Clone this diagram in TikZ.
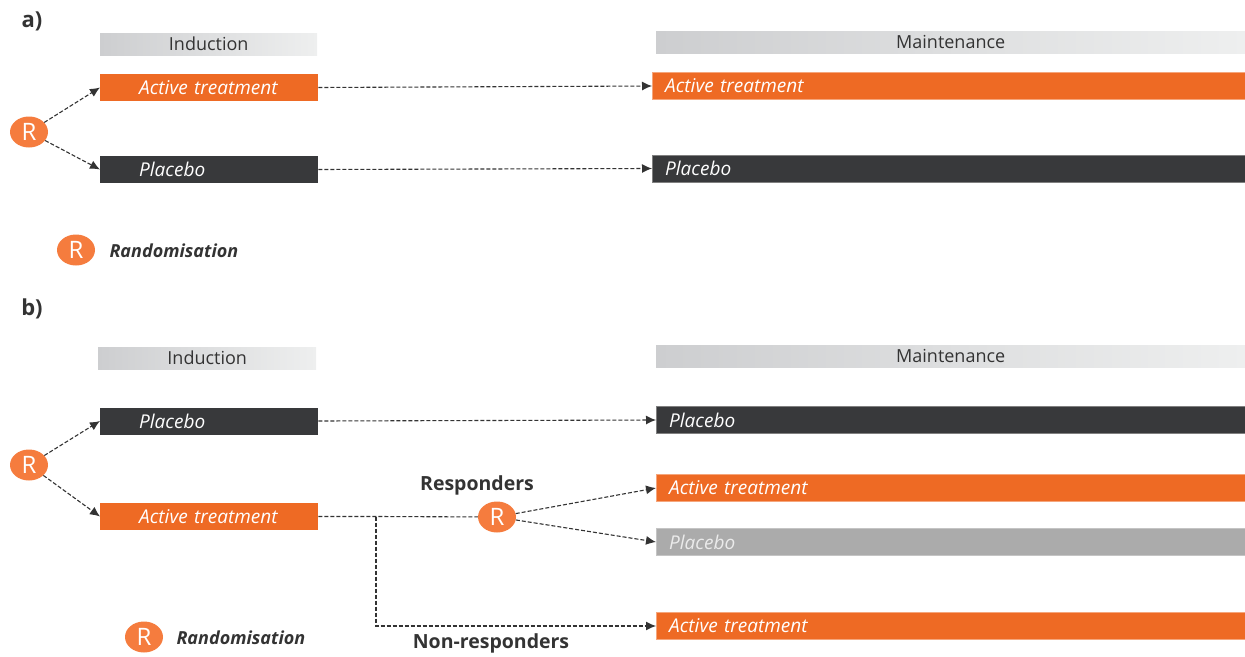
\documentclass[tikz,border=0pt]{standalone}
\usepackage{fontspec}
\setmainfont{Open Sans}
\usepackage{tikz}
\usetikzlibrary{arrows.meta}
\usetikzlibrary{shapes.geometric}
\definecolor{orng}{HTML}{EE6A24}
\definecolor{rorng}{HTML}{F57C3E}
\definecolor{drk}{HTML}{38393B}
\definecolor{lgry}{HTML}{ABABAB}
\definecolor{txt}{HTML}{333333}
\definecolor{hdrl}{HTML}{CDCED0}
\definecolor{hdrr}{HTML}{EEEFEF}
\tikzset{
 hdr/.style={left color=hdrl, right color=hdrr, minimum height=22pt, inner sep=0pt, anchor=west, text=txt, font=\fontsize{18}{20}\selectfont},
 indbar/.style={minimum height=27pt, inner xsep=39pt, inner ysep=0pt, text width=140pt, align=left, anchor=west, text=white, font=\itshape\fontsize{19}{22}\selectfont},
 mbar/.style={minimum height=27pt, inner xsep=13pt, inner ysep=0pt, text width=567pt, align=left, anchor=west, text=white, font=\itshape\fontsize{19}{22}\selectfont},
 rnd/.style={ellipse, fill=rorng, minimum width=38pt, minimum height=31pt, inner sep=0pt, text=white, font=\fontsize{24}{26}\selectfont},
 lbl/.style={text=txt, font=\bfseries\fontsize{19.5}{22}\selectfont},
 lgnd/.style={anchor=west, text=txt, font=\bfseries\itshape\fontsize{18}{20}\selectfont},
 flow/.style={dashed, dash pattern=on 4pt off 2pt, line width=1.1pt, draw=txt},
 arr/.style={flow, -{Latex[length=10pt,width=9pt]}}
}

\begin{document}
\begin{tikzpicture}[x=1pt, y=-1pt]
\useasboundingbox (0,0) rectangle (1245,656);

\node[text=txt, font=\bfseries\fontsize{22}{24}\selectfont] (lblA) at (32,21) {a)};
\node[hdr, minimum width=217pt] (indA) at (100,44) {Induction};
\node[hdr, minimum width=589pt] (mntA) at (656,42) {Maintenance};
\node[indbar, fill=orng] (indActA) at (100,87.5) {Active treatment};
\node[indbar, fill=drk] (indPlaA) at (100,169.5) {Placebo};
\node[mbar, fill=orng, draw=orng!60] (mActA) at (652,86) {Active treatment};
\node[mbar, fill=drk, draw=gray] (mPlaA) at (652,168.5) {Placebo};
\node[rnd] (rA) at (29,132) {R};
\node[rnd] (legA) at (76,250) {R};
\node[lgnd] (randA) at (106,251) {Randomisation};
\draw[arr] (rA) -- (indActA.west);
\draw[arr] (rA) -- (indPlaA.west);
\draw[arr] (indActA.east) -- (mActA.west);
\draw[arr] (indPlaA.east) -- (mPlaA.west);

\node[text=txt, font=\bfseries\fontsize{22}{24}\selectfont] (lblB) at (32,309) {b)};
\node[hdr, minimum width=218pt] (indB) at (98,358) {Induction};
\node[hdr, minimum width=589pt] (mntB) at (656,356) {Maintenance};
\node[indbar, fill=drk] (indPlaB) at (100,421) {Placebo};
\node[indbar, fill=orng] (indActB) at (100,516.5) {Active treatment};
\node[mbar, fill=drk, draw=gray] (mPlaB) at (656,420) {Placebo};
\node[mbar, fill=orng, draw=orng!60] (mActB) at (656,488) {Active treatment};
\node[mbar, fill=lgry, draw=lgry!70, text=white!92!black] (mPlbB) at (656,542) {Placebo};
\node[mbar, fill=orng, draw=orng!60] (mNonB) at (656,626) {Active treatment};
\node[rnd] (rB) at (29,465) {R};
\node[rnd] (rRsp) at (497,517) {R};
\node[lbl] (resp) at (477,485) {Responders};
\node[lbl] (nonresp) at (491,643) {Non-responders};
\node[rnd] (legB) at (144,637) {R};
\node[lgnd] (randB) at (173,638) {Randomisation};
\coordinate (split) at (376,516.5);
\draw[arr] (rB) -- (indPlaB.west);
\draw[arr] (rB) -- (indActB.west);
\draw[arr] (indPlaB.east) -- (mPlaB.west);
\draw[flow] (indActB.east) -- (split) -- (rRsp);
\draw[arr] (rRsp) -- (mActB.west);
\draw[arr] (rRsp) -- (mPlbB.west);
\draw[arr] (split) |- (mNonB.west);
\end{tikzpicture}
\end{document}
